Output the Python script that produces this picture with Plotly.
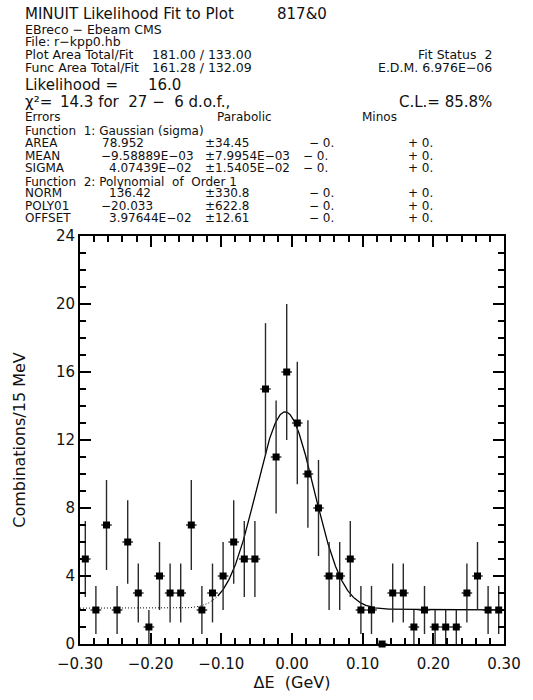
import numpy as np
import plotly.graph_objects as go

# ---- histogram: combinations per 15 MeV bin in Delta E ----
BIN_WIDTH = 0.015
X_MIN, X_MAX = -0.30, 0.30
counts = [5, 2, 7, 2, 6, 3, 1, 4, 3, 3,
          7, 2, 3, 4, 6, 5, 5, 15, 11, 16,
          13, 10, 8, 4, 4, 5, 2, 2, 0, 3,
          3, 1, 2, 1, 1, 1, 3, 4, 2, 2]

# ---- fit result: Gaussian signal + flat-ish background ----
AREA = 78.952
MEAN = -9.58889e-03
SIGMA = 4.07439e-02
FIT_LOW = -0.105                 # lower edge of the fitted range
BKG_ENDS = [2.11, 2.01]          # background level at x = -0.30 and x = +0.30

# ---- header text ----
param_names = ["AREA", "MEAN", "SIGMA", "NORM", "POLY01", "OFFSET"]
param_values = ["78.952", "−9.58889E−03", "4.07439E−02",
                "136.42", "−20.033", "3.97644E−02"]
param_errors = ["±34.45", "±7.9954E−03", "±1.5405E−02",
                "±330.8", "±622.8", "±12.61"]

centers = X_MIN + BIN_WIDTH * (np.arange(len(counts)) + 0.5)
errs = np.sqrt(np.array(counts, dtype=float))


def model(x):
    gauss = AREA * BIN_WIDTH / (np.sqrt(2 * np.pi) * SIGMA) * np.exp(-0.5 * ((x - MEAN) / SIGMA) ** 2)
    bkg = BKG_ENDS[0] + (BKG_ENDS[1] - BKG_ENDS[0]) * (x - X_MIN) / (X_MAX - X_MIN)
    return gauss + bkg


xs_out = np.linspace(X_MIN, FIT_LOW, 200)
xs_in = np.linspace(FIT_LOW, X_MAX, 600)

fig = go.Figure()
fig.add_trace(go.Scatter(x=xs_out, y=model(xs_out), mode="lines",
                         line=dict(color="black", width=1, dash="1px,2px"),
                         hoverinfo="skip", showlegend=False))
fig.add_trace(go.Scatter(x=xs_in, y=model(xs_in), mode="lines",
                         line=dict(color="black", width=1.3),
                         hoverinfo="skip", showlegend=False))
fig.add_trace(go.Scatter(
    x=centers, y=counts, mode="markers",
    marker=dict(symbol="square", size=7, color="black"),
    error_y=dict(type="data", array=errs, color="#2a2a2a", thickness=1.4, width=0),
    error_x=dict(type="constant", value=BIN_WIDTH / 2, color="#2a2a2a", thickness=1.4, width=0),
    cliponaxis=False, showlegend=False))

# plot frame in pixels
L, R, T, B = 80, 509, 236, 648
W, H = 533, 700
FONT = "DejaVu Sans"


def px(x):
    return (x - L) / (R - L)


def py(y):
    return (B - y) / (B - T)


annotations = []


def text(s, x, y, size=12.5, anchor="left"):
    annotations.append(dict(text=s, x=px(x), y=py(y), xref="paper", yref="paper",
                            xanchor=anchor, yanchor="middle", showarrow=False,
                            font=dict(family=FONT, size=size, color="#111")))


text("MINUIT Likelihood Fit to Plot", 22, 12, 15)
text("817&0", 277, 12, 15)
text("EBreco − Ebeam CMS", 22, 27)
text("File: r−kpp0.hb", 22, 40)
text("Plot Area Total/Fit", 22, 53)
text("181.00 / 133.00", 151, 53)
text("Fit Status  2", 499, 53, anchor="right")
text("Func Area Total/Fit", 22, 66)
text("161.28 / 132.09", 151, 66)
text("E.D.M. 6.976E−06", 499, 66, anchor="right")
text("Likelihood =", 22, 84, 15)
text("16.0", 147, 84, 15)
text("χ²=", 22, 101, 15)
text("14.3 for  27 −  6 d.o.f.,", 58, 101, 15)
text("C.L.= 85.8%", 499, 101, 15, anchor="right")
text("Errors", 22, 116, 12)
text("Parabolic", 217, 116, 12)
text("Minos", 363, 116, 12)
text("Function  1: Gaussian (sigma)", 22, 130, 12)
text("Function  2: Polynomial  of  Order 1", 22, 181, 12)

row_y = [142, 155, 167, 193, 206, 218]
val_x = [100, 99, 107, 107, 99, 107]
minus_x = [310, 304, 304, 310, 310, 310]
for name, val, err, y, vx, mx in zip(param_names, param_values, param_errors, row_y, val_x, minus_x):
    text(name, 22, y, 12)
    text(val, vx, y, 12)
    text(err, 204, y, 12)
    text("− 0.", mx, y, 12)
    text("+ 0.", 410, y, 12)

fig.update_layout(
    width=W, height=H,
    margin=dict(l=L, r=W - R, t=T, b=H - B, pad=0),
    paper_bgcolor="white", plot_bgcolor="white",
    font=dict(family=FONT, color="#111"),
    annotations=annotations,
    xaxis=dict(range=[X_MIN, X_MAX], showgrid=False, zeroline=False,
               showline=True, linecolor="black", linewidth=2, mirror="ticks",
               ticks="inside", ticklen=11, tickwidth=1.5, tickcolor="black",
               tick0=-0.3, dtick=0.1, tickformat=".2f", ticklabelstandoff=5,
               tickfont=dict(size=15, family=FONT, color="#111"),
               minor=dict(ticks="inside", ticklen=6, tickwidth=1.5, dtick=0.02,
                          tick0=-0.3, tickcolor="black", showgrid=False),
               title=dict(text="ΔE  (GeV)", font=dict(size=16, family=FONT, color="#111"),
                          standoff=4)),
    yaxis=dict(range=[0, 24], showgrid=False, zeroline=False,
               showline=True, linecolor="black", linewidth=2, mirror="ticks",
               ticks="inside", ticklen=11, tickwidth=1.5, tickcolor="black",
               tick0=0, dtick=4,
               tickfont=dict(size=15, family=FONT, color="#111"),
               minor=dict(ticks="inside", ticklen=6, tickwidth=1.5, dtick=1,
                          tick0=0, tickcolor="black", showgrid=False),
               title=dict(text="Combinations/15 MeV", font=dict(size=16, family=FONT, color="#111"),
                          standoff=26)),
)

fig.write_html("out.html")
